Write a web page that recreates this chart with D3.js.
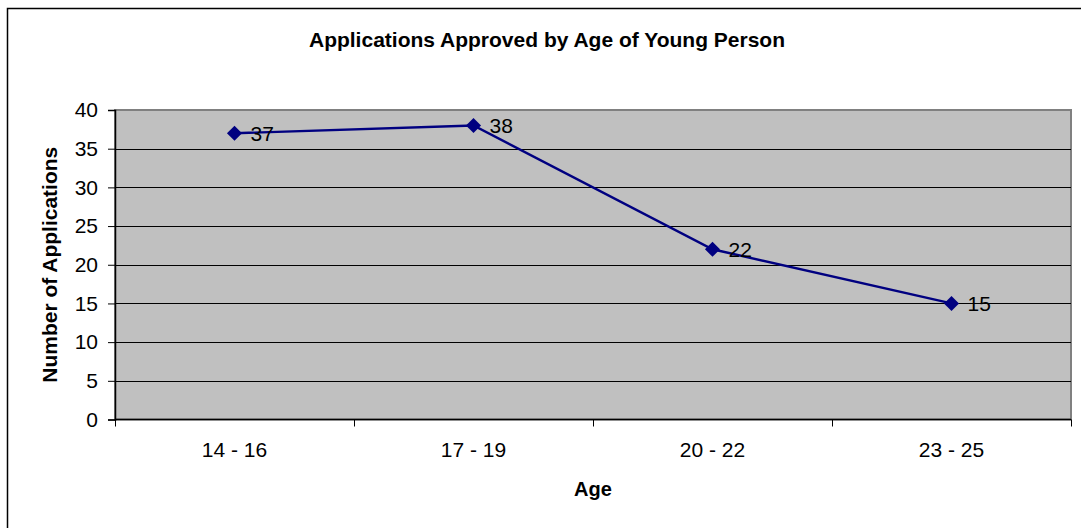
<!DOCTYPE html>
<html>
<head>
<meta charset="utf-8">
<script src="https://cdn.jsdelivr.net/npm/d3@7"></script>
<style>
  body { margin: 0; background: #fff; }
  svg { display: block; font-family: "Liberation Sans", Arial, sans-serif; }
</style>
</head>
<body>
<svg width="1081" height="528"></svg>
<script>
// chart data
var ageGroups = ["14 - 16", "17 - 19", "20 - 22", "23 - 25"];
var approved = [37, 38, 22, 15];
var yTicks = [0, 5, 10, 15, 20, 25, 30, 35, 40];

var svg = d3.select("svg");

// plot area bounds
var plotLeft = 115, plotRight = 1071, plotTop = 110, plotBottom = 419.5;

// outer chart frame (right and bottom edges run off the picture)
svg.append("rect")
  .attr("x", 7.5).attr("y", 8.5)
  .attr("width", 1090).attr("height", 530)
  .attr("fill", "#fff")
  .attr("stroke", "#000")
  .attr("stroke-width", 1.5);

var x = d3.scaleBand().domain(ageGroups).range([plotLeft, plotRight]);
var y = d3.scaleLinear().domain([0, 40]).range([plotBottom, plotTop]);

// gray plot background
svg.append("rect")
  .attr("x", plotLeft).attr("y", plotTop)
  .attr("width", plotRight - plotLeft).attr("height", plotBottom - plotTop)
  .attr("fill", "#c0c0c0")
  .attr("stroke", "#808080")
  .attr("stroke-width", 2);

// horizontal gridlines
svg.append("g")
  .selectAll("line")
  .data(yTicks.filter(function(d) { return d > 0 && d < 40; }))
  .enter().append("line")
  .attr("x1", plotLeft).attr("x2", plotRight)
  .attr("y1", function(d) { return Math.round(y(d)) + 0.5; })
  .attr("y2", function(d) { return Math.round(y(d)) + 0.5; })
  .attr("stroke", "#000")
  .attr("stroke-width", 1);

// y axis
var yAxis = svg.append("g")
  .attr("transform", "translate(" + plotLeft + ",0)")
  .call(d3.axisLeft(y).tickValues(yTicks).tickSize(7).tickPadding(10));
yAxis.select(".domain").attr("stroke", "#000").attr("stroke-width", 1.5);
yAxis.selectAll(".tick line").attr("stroke", "#000");
yAxis.selectAll("text")
  .attr("font-size", 21)
  .attr("fill", "#000")
  .attr("font-family", "Liberation Sans, Arial, sans-serif");

// x axis with ticks between categories
var xAxis = svg.append("g")
  .attr("transform", "translate(0," + plotBottom + ")");
xAxis.append("line")
  .attr("x1", plotLeft).attr("x2", plotRight)
  .attr("stroke", "#000").attr("stroke-width", 1.5);
xAxis.selectAll(".xtick")
  .data(ageGroups.concat(["end"]))
  .enter().append("line")
  .attr("class", "xtick")
  .attr("x1", function(d, i) { return Math.round(plotLeft + i * x.step()) + 0.5; })
  .attr("x2", function(d, i) { return Math.round(plotLeft + i * x.step()) + 0.5; })
  .attr("y1", 0).attr("y2", 7)
  .attr("stroke", "#000");
xAxis.selectAll(".xlabel")
  .data(ageGroups)
  .enter().append("text")
  .attr("class", "xlabel")
  .attr("x", function(d) { return x(d) + x.bandwidth() / 2; })
  .attr("y", 37.5)
  .attr("text-anchor", "middle")
  .attr("font-size", 21)
  .text(function(d) { return d; });

// series line
var points = ageGroups.map(function(g, i) {
  return { group: g, value: approved[i] };
});
var line = d3.line()
  .x(function(d) { return x(d.group) + x.bandwidth() / 2; })
  .y(function(d) { return y(d.value); });

svg.append("path")
  .datum(points)
  .attr("d", line)
  .attr("fill", "none")
  .attr("stroke", "#000080")
  .attr("stroke-width", 2.4);

// diamond markers
svg.append("g")
  .selectAll("path")
  .data(points)
  .enter().append("path")
  .attr("d", d3.symbol().type(d3.symbolDiamond2).size(145))
  .attr("transform", function(d) {
    return "translate(" + (x(d.group) + x.bandwidth() / 2) + "," + y(d.value) + ")";
  })
  .attr("fill", "#000080");

// value labels
svg.append("g")
  .selectAll("text")
  .data(points)
  .enter().append("text")
  .attr("x", function(d) { return x(d.group) + x.bandwidth() / 2 + 16; })
  .attr("y", function(d) { return y(d.value) + 7.5; })
  .attr("font-size", 21)
  .text(function(d) { return d.value; });

// titles
svg.append("text")
  .attr("x", 547).attr("y", 47)
  .attr("text-anchor", "middle")
  .attr("font-size", 21)
  .attr("font-weight", "bold")
  .text("Applications Approved by Age of Young Person");

svg.append("text")
  .attr("x", (plotLeft + plotRight) / 2).attr("y", 496)
  .attr("text-anchor", "middle")
  .attr("font-size", 20)
  .attr("font-weight", "bold")
  .text("Age");

svg.append("text")
  .attr("transform", "translate(57," + (plotTop + plotBottom) / 2 + ") rotate(-90)")
  .attr("text-anchor", "middle")
  .attr("font-size", 21)
  .attr("font-weight", "bold")
  .text("Number of Applications");
</script>
</body>
</html>
